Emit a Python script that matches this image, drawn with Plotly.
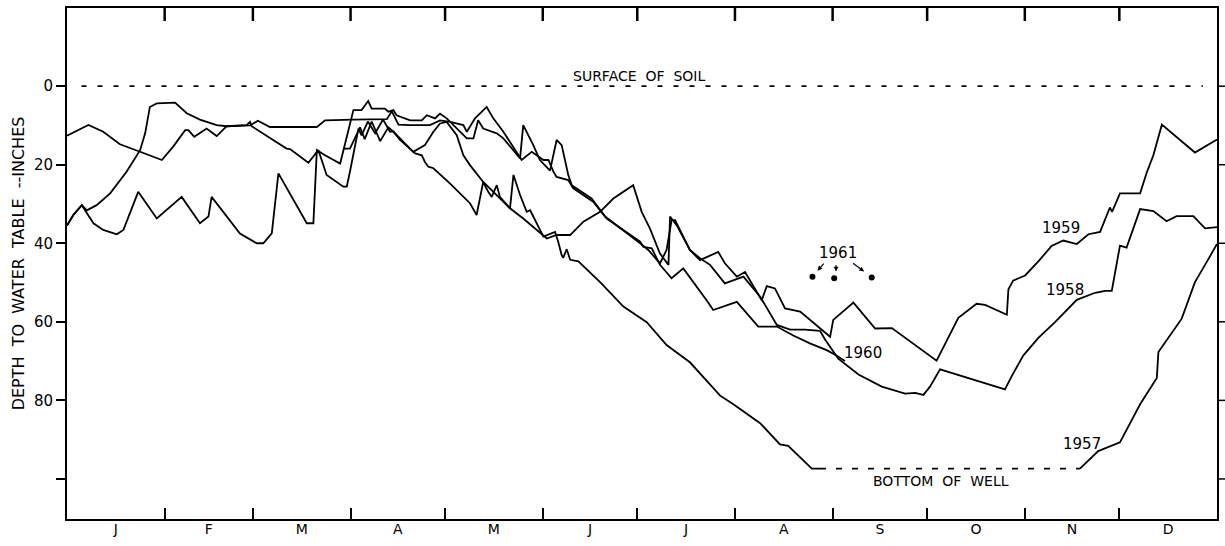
import plotly.graph_objects as go

# ---- data: day of year vs depth to water table (inches) ----
days_1957 = [87.7, 89.8, 93.0, 94.5, 96.7, 99.4, 102.0, 103.6, 105.7, 110.5, 112.6, 113.6, 114.7, 116.3,
             121.6, 127.9, 130.0, 132.1, 133.7, 134.8, 136.4, 137.4, 140.6, 141.7, 143.8, 145.9, 147.0,
             151.2, 154.9, 155.9, 157.0, 157.5, 158.6, 159.7, 162.3, 169.2, 176.6, 184.0, 190.3, 197.7,
             207.3, 211.5, 220.0, 226.3, 228.9, 236.4, 239.0]
depth_1957 = [15.9, 15.9, 10.5, 13.5, 9.0, 14.0, 10.5, 11.6, 13.7, 17.1, 17.6, 19.3, 20.5, 20.9,
              24.8, 29.8, 32.8, 24.4, 26.9, 28.2, 25.2, 28.2, 31.1, 22.6, 27.7, 32.0, 31.6,
              38.3, 37.1, 39.6, 43.0, 43.7, 41.5, 44.2, 44.6, 49.9, 56.1, 60.1, 65.9, 70.3,
              78.8, 81.0, 85.8, 91.2, 91.6, 97.4, 97.4]
days_1957_late = [321.5, 327.3, 334.2, 340.6, 345.9, 346.4, 353.8, 358.0, 361.2, 365.0]
depth_1957_late = [97.4, 92.9, 90.7, 81.0, 74.3, 67.7, 59.2, 49.9, 45.5, 40.2]

days_1958 = [0, 2.0, 4.7, 8.4, 11.5, 15.8, 17.9, 22.6, 28.5, 36.4, 42.2, 44.9, 45.9, 54.9, 60.2, 62.3,
             65.0, 67.1, 76.1, 78.2, 79.3, 81.9, 86.7, 89.8, 90.9, 93.5, 95.6, 96.7, 100.9, 102.0,
             103.6, 104.6, 108.9, 112.6, 114.2, 116.8, 118.4, 120.5, 122.6, 126.9, 129.0, 130.5,
             132.1, 136.4, 138.5, 143.8, 144.8, 148.0, 150.1, 153.3, 155.4, 157.0, 159.1, 160.2,
             166.5, 170.8, 181.9, 184.5, 188.2, 190.3, 191.9, 193.0, 197.7, 200.9, 204.1, 208.8,
             214.7, 220.0, 225.3, 229.5, 234.2, 239.0, 240.6, 244.8, 251.2, 258.6, 266.0, 269.2,
             271.8, 273.9, 277.1, 297.7, 299.8, 303.5, 308.3, 313.6, 320.5, 326.3, 329.5, 331.6,
             334.2, 336.3, 340.6, 344.8, 349.0, 352.2, 357.5, 361.2, 365.0]
depth_1958 = [35.5, 32.8, 30.3, 34.9, 36.6, 37.7, 36.6, 26.9, 33.7, 28.2, 34.9, 33.2, 28.2, 37.5, 40.0, 40.0,
              37.5, 22.2, 34.9, 34.9, 16.3, 17.6, 19.7, 9.1, 6.1, 6.1, 3.8, 5.7, 5.7, 6.5,
              6.1, 7.4, 8.7, 8.7, 7.4, 8.2, 7.0, 8.2, 9.9, 13.3, 13.3, 8.7,
              10.8, 12.0, 13.3, 18.4, 9.9, 15.0, 18.8, 21.5, 13.7, 15.0, 22.6, 25.2,
              28.6, 33.2, 40.0, 41.7, 45.1, 41.7, 34.1, 34.1, 41.7, 43.8, 45.5, 50.2,
              48.5, 53.6, 60.8, 62.0, 62.0, 62.3, 64.5, 69.4, 73.4, 76.5, 78.3, 78.1,
              78.6, 76.5, 72.1, 77.2, 73.9, 68.6, 64.1, 60.1, 54.4, 52.6, 52.1, 52.1,
              40.6, 41.1, 31.3, 31.8, 34.4, 33.1, 33.1, 36.2, 35.9]

days_1959 = [0, 2.0, 4.7, 6.3, 9.4, 13.7, 18.9, 23.2, 24.8, 26.3, 28.5, 31.6, 34.3, 38.0, 42.2, 47.5,
             50.7, 57.0, 58.1, 58.6, 69.7, 70.8, 76.6, 79.8, 82.4, 87.7, 88.8, 89.8, 92.5, 93.5, 95.5,
             97.8, 100.3, 102.5, 103.6, 109.9, 113.6, 116.3, 118.4, 120.5, 123.7, 125.8, 127.9,
             132.1, 136.4, 140.6, 144.8, 150.7, 152.3, 155.4, 159.7, 163.9, 169.2, 173.4, 179.7,
             182.4, 185.0, 188.2, 190.9, 191.4, 193.5, 197.7, 200.9, 206.7, 208.8, 212.6, 215.2,
             220.5, 222.1, 224.7, 227.9, 232.7, 242.2, 243.2, 249.6, 256.5, 261.8, 276.0, 282.9,
             288.7, 291.4, 298.3, 298.8, 300.3, 304.1, 308.3, 312.5, 316.2, 320.5, 324.2, 327.9,
             331.0, 331.7, 334.2, 340.6, 342.7, 344.8, 347.5, 358.0, 365.0]
depth_1959 = [35.5, 32.8, 30.3, 31.6, 30.3, 27.3, 21.8, 16.3, 12.0, 5.3, 4.4, 4.2, 4.2, 6.9, 8.5, 9.9,
              10.2, 9.9, 9.1, 10.2, 15.9, 16.0, 19.5, 16.3, 22.6, 25.6, 25.6, 21.8, 10.8, 12.5, 9.0,
              12.0, 8.5, 11.6, 11.6, 16.7, 15.0, 11.6, 9.5, 9.1, 12.5, 17.6, 20.1,
              24.4, 27.7, 31.1, 33.7, 37.9, 38.8, 37.9, 37.9, 34.5, 32.0, 28.6, 25.2,
              32.0, 36.2, 42.6, 45.5, 33.2, 35.4, 41.7, 44.3, 42.2, 45.1, 48.5, 47.3,
              54.5, 50.9, 51.5, 56.6, 57.4, 63.8, 59.5, 55.1, 61.7, 61.6, 69.9, 59.0,
              55.4, 55.7, 58.2, 51.7, 49.5, 48.2, 44.6, 40.7, 39.3, 40.2, 37.7, 37.1,
              30.9, 32.0, 27.3, 27.3, 22.0, 17.6, 9.8, 16.9, 13.6]

days_1960 = [0, 6.8, 11.5, 16.8, 23.2, 30.1, 33.7, 37.5, 38.5, 40.4, 44.3, 47.5, 50.7, 54.9, 58.1, 60.6,
             64.4, 79.3, 81.9, 90.9, 101.5, 103.1, 105.2, 108.9, 115.2, 118.4, 121.6, 125.8, 126.9,
             129.5, 133.2, 135.3, 138.5, 144.3, 147.5, 151.2, 152.8, 154.4, 155.4, 159.1, 160.7,
             167.0, 171.3, 181.9, 182.9, 185.6, 187.7, 188.2, 191.9, 195.6, 203.0, 205.1, 212.6,
             219.4, 225.3, 230.5, 235.8, 241.1, 244.1, 246.9]
depth_1960 = [12.6, 9.9, 11.6, 14.8, 16.7, 18.8, 15.4, 11.2, 11.2, 12.9, 10.8, 12.7, 10.2, 10.0, 10.0, 8.8,
              10.4, 10.4, 8.7, 8.5, 8.4, 6.4, 9.8, 9.9, 9.9, 8.7, 9.1, 9.9, 11.6,
              8.2, 5.3, 8.2, 11.6, 18.8, 16.7, 18.8, 18.8, 21.8, 23.1, 23.9, 26.0,
              29.4, 33.7, 39.6, 40.9, 41.3, 44.7, 45.5, 48.9, 46.4, 54.5, 57.0, 54.9,
              61.2, 61.2, 63.5, 65.5, 67.2, 68.5, 70.0]

days_1961 = [236.6, 243.5, 255.4]
depth_1961 = [48.5, 48.9, 48.7]

soil_surface_depth = 0
soil_surface_days = [4.6, 360.5]
well_bottom_depth = 97.4
well_dry_days = [239.0, 321.5]

month_labels = ["J", "F", "M", "A", "M", "J", "J", "A", "S", "O", "N", "D"]
month_lengths = [31, 28, 31, 30, 31, 30, 31, 31, 30, 31, 30, 31]
depth_ticks = [0, 20, 40, 60, 80, 100]
depth_tick_text = ["0", "20", "40", "60", "80", ""]

# ---- derived axis positions ----
month_starts = [sum(month_lengths[:i]) for i in range(12)]
month_mids = [s + n / 2 for s, n in zip(month_starts, month_lengths)]
month_bounds = month_starts[1:]

FONT = "DejaVu Sans"
W, H = 1225, 546
M_L, M_R, M_T, M_B = 67, 8, 8, 27
PLOT_W, PLOT_H = W - M_L - M_R, H - M_T - M_B
line_style = dict(color="black", width=1.8)

fig = go.Figure()
for d, v in [(days_1957, depth_1957), (days_1957_late, depth_1957_late),
             (days_1958, depth_1958), (days_1959, depth_1959), (days_1960, depth_1960)]:
    fig.add_trace(go.Scatter(x=d, y=v, mode="lines", line=line_style, hoverinfo="skip"))

fig.add_trace(go.Scatter(x=soil_surface_days, y=[soil_surface_depth] * 2, mode="lines",
                         line=dict(color="black", width=1.8, dash="5px,11px")))
fig.add_trace(go.Scatter(x=well_dry_days, y=[well_bottom_depth] * 2, mode="lines",
                         line=dict(color="black", width=1.8, dash="6px,10px")))
fig.add_trace(go.Scatter(x=days_1961, y=depth_1961, mode="markers", xaxis="x2",
                         marker=dict(color="black", size=6)))

ann = []
def label(text, x, y, size=15):
    ann.append(dict(text=text, x=x, y=y, xref="x", yref="y", showarrow=False,
                    font=dict(family=FONT, size=size, color="black")))

label("SURFACE  OF  SOIL", 181.6, -2.6, 14)
label("BOTTOM  OF  WELL", 277.4, 100.6, 14)
label("1959", 315.4, 36.0)
label("1958", 316.8, 52.0)
label("1960", 252.7, 68.0)
label("1957", 322.0, 91.0)
label("1961", 244.8, 42.6)

# arrows from the 1961 label to its points
for tail, head in [((240.6, 44.8), (238.2, 47.0)), ((244.1, 45.2), (244.1, 47.2)),
                   ((249.0, 44.8), (253.0, 47.2))]:
    ann.append(dict(x=head[0], y=head[1], ax=tail[0], ay=tail[1], xref="x", yref="y",
                    axref="x", ayref="y", text="", showarrow=True, arrowhead=2,
                    arrowsize=0.8, arrowwidth=1.2, arrowcolor="black"))

# top (inward) month ticks and right (outward) depth ticks, derived from the axis lists
shapes = []
top_len = 13 / PLOT_H
for b in month_bounds:
    shapes.append(dict(type="line", xref="x", yref="paper", x0=b, x1=b, y0=1.0, y1=1.0 - top_len,
                       layer="above", line=dict(color="black", width=2.5)))
right_len = 9 / PLOT_W
for t in depth_ticks:
    shapes.append(dict(type="line", xref="paper", yref="y", x0=1, x1=1 + right_len, y0=t, y1=t,
                       line=dict(color="black", width=1.5)))

fig.update_layout(
    width=W, height=H, autosize=False,
    margin=dict(l=M_L, r=M_R, t=M_T, b=M_B, autoexpand=False),
    paper_bgcolor="white", plot_bgcolor="white",
    showlegend=False,
    font=dict(family=FONT, color="black"),
    annotations=ann, shapes=shapes,
    xaxis=dict(range=[0, 365], showgrid=False, zeroline=False, automargin=False,
               showline=True, linecolor="black", linewidth=2, mirror=True,
               tickmode="array", tickvals=month_bounds, ticktext=[""] * len(month_bounds),
               ticks="inside", ticklen=11, tickwidth=2, tickcolor="black"),
    xaxis2=dict(range=[0, 365], overlaying="x", matches="x", side="bottom", automargin=False,
                showgrid=False, zeroline=False, showline=False,
                tickmode="array", tickvals=month_mids, ticktext=month_labels, ticks="",
                tickfont=dict(family=FONT, size=14, color="black")),
    yaxis=dict(range=[110.2, -19.9], showgrid=False, zeroline=False, automargin=False,
               showline=True, linecolor="black", linewidth=2, mirror=True,
               tickmode="array", tickvals=depth_ticks, ticktext=depth_tick_text,
               ticks="outside", ticklen=9, tickwidth=1.5, tickcolor="black",
               tickfont=dict(family=FONT, size=15, color="black"),
               title=dict(text="DEPTH  TO  WATER  TABLE  --INCHES",
                          font=dict(family=FONT, size=16, color="black"), standoff=5)),
)

fig.write_html("out.html", config={"responsive": False})
